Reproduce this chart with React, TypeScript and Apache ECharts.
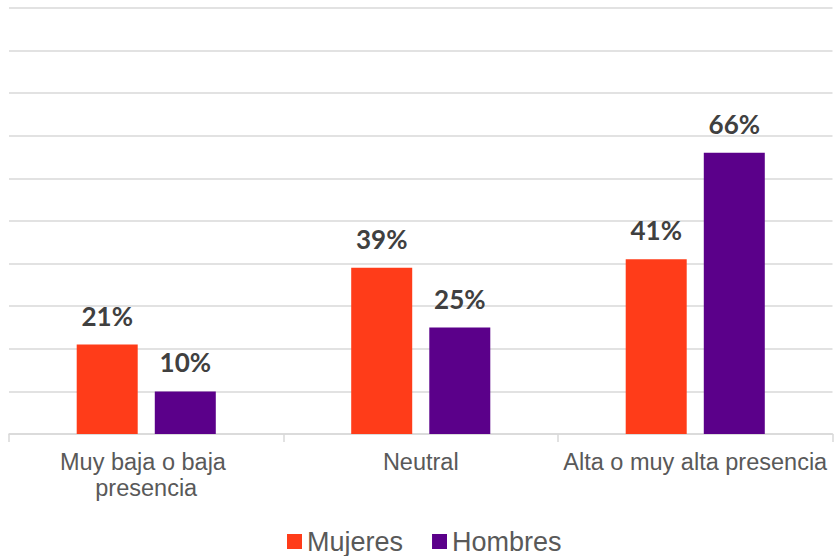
import React, { useEffect, useRef } from "react";
import * as echarts from "echarts";

const categories = ["Muy baja o baja presencia", "Neutral", "Alta o muy alta presencia"];
const mujeres = [21, 39, 41];
const hombres = [10, 25, 66];
const seriesNames = ["Mujeres", "Hombres"];
const colors = ["#FF3C19", "#5B008A"];

export default function App() {
  const ref = useRef<HTMLDivElement>(null);
  useEffect(() => {
    if (!ref.current) return;
    const chart = echarts.init(ref.current, null, { renderer: "svg" });
    const labelStyle = {
      show: true,
      position: "top" as const,
      distance: 16,
      formatter: "{c}%",
      fontFamily: "Lato",
      fontWeight: "bold" as const,
      fontSize: 26,
      color: "#404040",
    };
    chart.setOption({
      animation: false,
      backgroundColor: "#ffffff",
      grid: { left: 9, right: 0, top: 8, bottom: 122, containLabel: false },
      legend: {
        data: seriesNames,
        top: 528,
        left: 287,
        padding: 0,
        icon: "rect",
        itemWidth: 15,
        itemHeight: 15,
        itemGap: 29,
        textStyle: { fontFamily: "Liberation Sans", fontSize: 27, color: "#595959", lineHeight: 26 },
      },
      xAxis: {
        type: "category",
        data: categories,
        axisLine: { show: true, lineStyle: { color: "#d9d9d9", width: 1.5 } },
        axisTick: { show: true, length: 8, lineStyle: { color: "#d9d9d9", width: 1.5 } },
        axisLabel: {
          margin: 15,
          fontFamily: "Liberation Sans",
          fontSize: 23.5,
          lineHeight: 26,
          color: "#595959",
          width: 272,
          overflow: "break",
          interval: 0,
        },
      },
      yAxis: {
        type: "value",
        min: 0,
        max: 100,
        interval: 10,
        axisLabel: { show: false },
        axisLine: { show: false },
        axisTick: { show: false },
        splitLine: { show: true, lineStyle: { color: "#d9d9d9", width: 1.5 } },
      },
      series: [
        {
          name: seriesNames[0],
          type: "bar",
          data: mujeres,
          barWidth: 61,
          barGap: "28%",
          itemStyle: { color: colors[0] },
          label: labelStyle,
        },
        {
          name: seriesNames[1],
          type: "bar",
          data: hombres,
          barWidth: 61,
          barGap: "28%",
          itemStyle: { color: colors[1] },
          label: labelStyle,
        },
      ],
    });
    return () => chart.dispose();
  }, []);
  return <div ref={ref} style={{ width: 834, height: 556, position: "absolute", left: 0, top: 0 }} />;
}
